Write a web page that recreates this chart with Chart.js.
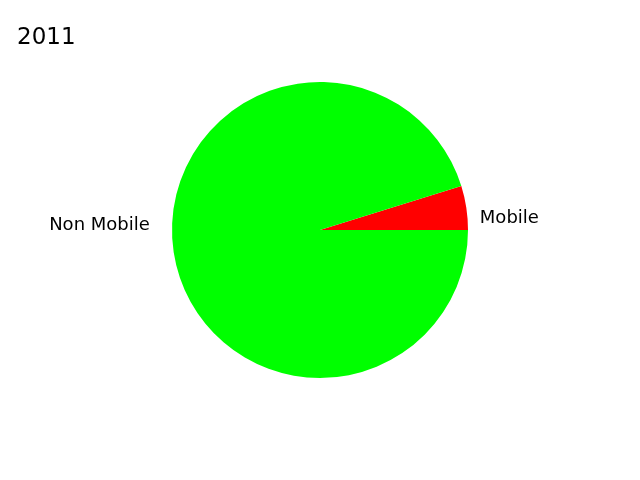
<!DOCTYPE html>
<html>
<head>
<meta charset="utf-8">
<script src="https://cdn.jsdelivr.net/npm/chart.js@4"></script>
<style>
html,body{margin:0;padding:0;background:#fff;}
#wrap{width:640px;height:480px;position:relative;}
</style>
</head>
<body>
<div id="wrap"><canvas id="c" width="640" height="480"></canvas></div>
<script>
const title = "2011";
const categories = ["Mobile", "Non Mobile"];
const values = [4.8, 95.2];
const colors = ["#ff0000", "#00ff00"];

const total = values.reduce((a, b) => a + b, 0);
const rotationDeg = 90 - 360 * values[0] / total;

const labelPlugin = {
  id: 'outerLabels',
  afterDraw(chart) {
    const ctx = chart.ctx;
    const meta = chart.getDatasetMeta(0);
    const arc = meta.data[0];
    const cx = arc.x, cy = arc.y, r = arc.outerRadius;
    ctx.save();
    ctx.fillStyle = '#000';
    ctx.font = '18px "DejaVu Sans"';
    ctx.textBaseline = 'middle';
    ctx.textAlign = 'left';
    ctx.fillText(categories[0], cx + r * 1.08, cy - 12);
    ctx.textAlign = 'right';
    ctx.fillText(categories[1], cx - r * 1.15, cy - 5);
    ctx.font = '23px "DejaVu Sans"';
    ctx.textAlign = 'left';
    ctx.fillText(title, 17, 38);
    ctx.restore();
  }
};

new Chart(document.getElementById('c'), {
  type: 'pie',
  data: {
    labels: categories,
    datasets: [{
      data: values,
      backgroundColor: colors,
      borderWidth: 0
    }]
  },
  options: {
    responsive: false,
    animation: false,
    rotation: rotationDeg,
    layout: { padding: { top: 82, bottom: 102, left: 0, right: 0 } },
    plugins: {
      legend: { display: false },
      tooltip: { enabled: false },
      title: { display: false }
    }
  },
  plugins: [labelPlugin]
});
</script>
</body>
</html>
